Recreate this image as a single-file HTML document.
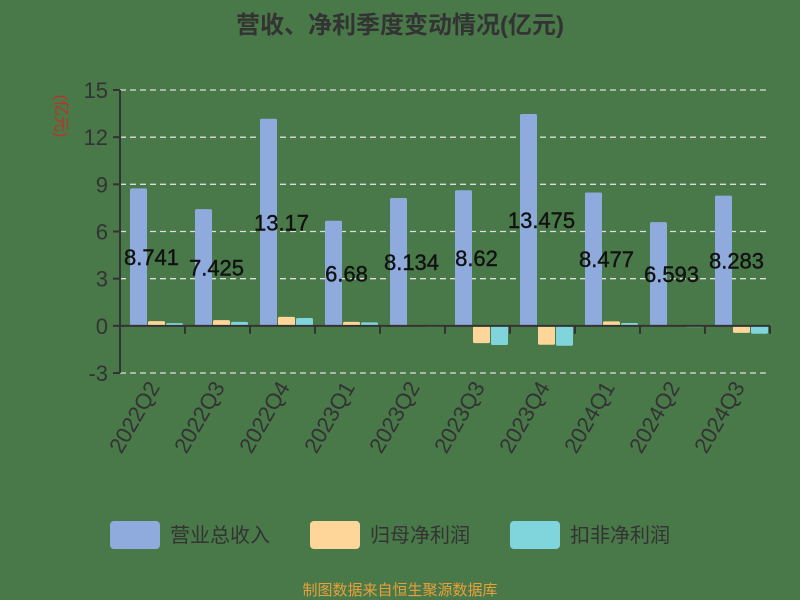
<!DOCTYPE html>
<html><head><meta charset="utf-8"><style>
body{margin:0;background:#497849;}
svg{display:block;font-family:"Liberation Sans","Noto Sans CJK SC",sans-serif;}
</style></head><body>
<svg id="chart" width="800" height="600">
<rect width="800" height="600" fill="#497849"/>
<text x="400" y="33" text-anchor="middle" font-size="24" font-weight="bold" fill="#333">营收、净利季度变动情况(亿元)</text>
<text transform="translate(56,116) rotate(90)" text-anchor="middle" font-size="16" fill="#c0302a">(亿元)</text>
<g id="grid"></g><g id="bars"></g><g id="axes"></g>
<g>
<rect x="110" y="521" width="50" height="28" rx="4" fill="#8faadc"/>
<text x="170" y="542" font-size="20" fill="#333">营业总收入</text>
<rect x="310" y="521" width="50" height="28" rx="4" fill="#ffd699"/>
<text x="370" y="542" font-size="20" fill="#333">归母净利润</text>
<rect x="510" y="521" width="50" height="28" rx="4" fill="#80d4dc"/>
<text x="570" y="542" font-size="20" fill="#333">扣非净利润</text>
</g>
<text x="400" y="595" text-anchor="middle" font-size="15" fill="#e8a03a">制图数据来自恒生聚源数据库</text>
</svg>
<script>
const categories=["2022Q2","2022Q3","2022Q4","2023Q1","2023Q2","2023Q3","2023Q4","2024Q1","2024Q2","2024Q3"];
const revenue=[8.741,7.425,13.17,6.68,8.134,8.62,13.475,8.477,6.593,8.283];
const netProfit=[0.3,0.36,0.57,0.25,0.01,-1.1,-1.2,0.28,0.01,-0.45];
const deductedProfit=[0.17,0.25,0.5,0.22,-0.05,-1.22,-1.27,0.18,-0.08,-0.5];
const yTicks=[-3,0,3,6,9,12,15];
const NS="http://www.w3.org/2000/svg";
const X0=120,X1=770,Y0=90,Y1=373,VMIN=-3,VMAX=15;
const bw=(X1-X0)/categories.length;
function y(v){return Y0+(VMAX-v)/(VMAX-VMIN)*(Y1-Y0);}
function mk(tag,a,p){const e=document.createElementNS(NS,tag);for(const k in a)e.setAttribute(k,a[k]);p.appendChild(e);return e;}
const grid=document.getElementById('grid'),bars=document.getElementById('bars'),axes=document.getElementById('axes');
yTicks.forEach(t=>{
  if(t!==0){const l=mk('line',{x1:X0,x2:X1,y1:y(t),y2:y(t),stroke:'#ddd','stroke-dasharray':'6,4','stroke-width':1.3},grid);
  
  }
  const tk=mk('line',{x1:X0-7,x2:X0,y1:y(t),y2:y(t),stroke:'#333','stroke-width':2},axes);
  
  
  const tx=mk('text',{x:X0-12,y:y(t)+8,'text-anchor':'end','font-size':22,fill:'#333'},axes);tx.textContent=t;
  
  
});
const series=[[revenue,'#8faadc',-1],[netProfit,'#ffd699',0],[deductedProfit,'#80d4dc',1]];
categories.forEach((c,i)=>{
  const cx=X0+bw*(i+0.5)+4;
  series.forEach(([arr,col,off])=>{
    const v=arr[i],x=cx+off*18-8.5;
    const r=mk('rect',{x:x,y:Math.min(y(v),y(0)),width:17,height:Math.max(1,Math.abs(y(v)-y(0))),fill:col,rx:1.5},bars);
    
    
  });
  const lb=mk('text',{x:X0+bw*(i+0.5)-1,y:(y(revenue[i])+y(0))/2+8,'text-anchor':'middle','font-size':22,fill:'#111',stroke:'#111','stroke-width':0.4},bars);
  lb.textContent=revenue[i];
  
  
  const xl=mk('text',{'text-anchor':'end','font-size':22,fill:'#333',transform:`translate(${X0+bw*(i+0.5)+8},${y(VMIN)+14}) rotate(-60)`},axes);
  xl.textContent=c;
  
  
  const tk=mk('line',{x1:X0+bw*(i+1),x2:X0+bw*(i+1),y1:y(0),y2:y(0)+8,stroke:'#333','stroke-width':2},axes);
  
  
});
const xa=mk('line',{x1:X0,x2:X1,y1:y(0),y2:y(0),stroke:'#333','stroke-width':2},axes);


const ya=mk('line',{x1:X0,x2:X0,y1:Y0,y2:Y1,stroke:'#333','stroke-width':2},axes);


</script>
</body></html>
